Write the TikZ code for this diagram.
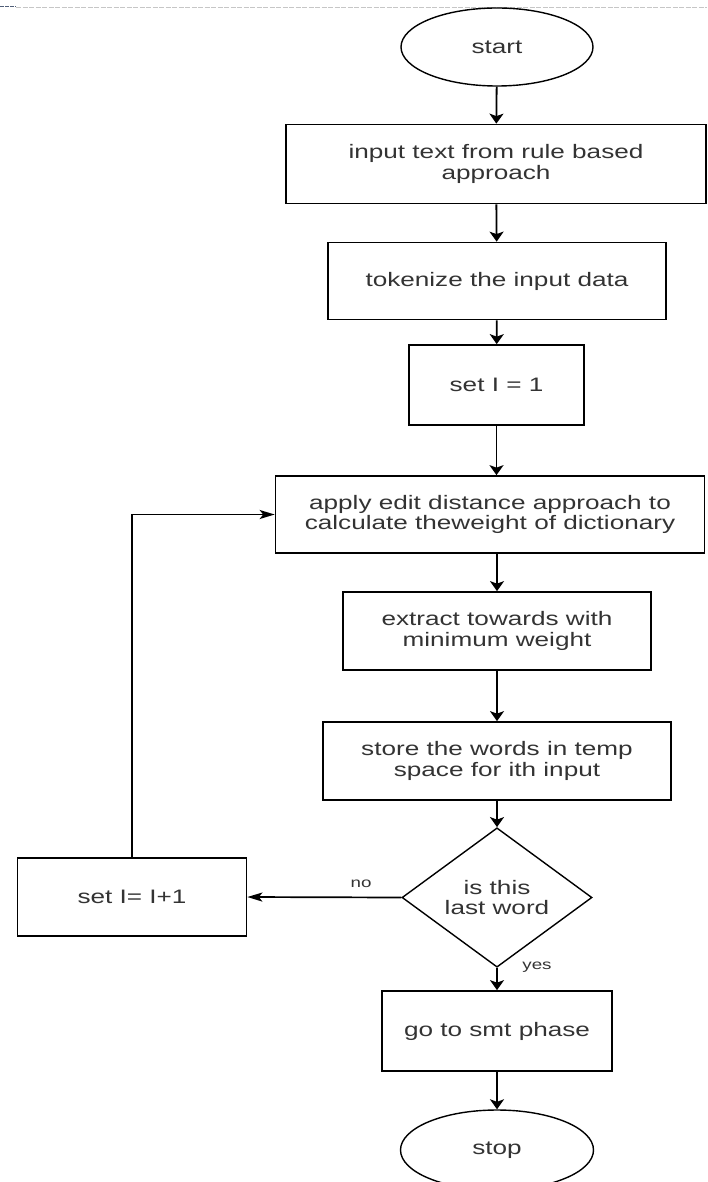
\documentclass[tikz,border=0pt]{standalone}
\usepackage{fontspec}
\setmainfont{Liberation Sans}[FakeStretch=1.34]
\usetikzlibrary{shapes.geometric,arrows.meta}
\definecolor{textgray}{RGB}{51,51,51}
\definecolor{ruleblue}{RGB}{80,95,120}

\begin{document}
\begin{tikzpicture}[x=1pt,y=-1pt,
  font=\fontsize{19.5}{20.5}\selectfont,
  every node/.style={text=textgray},
  box/.style={draw=black, line width=1.7pt, rectangle, inner sep=0pt, align=center},
  terminal/.style={draw=black, line width=1.4pt, ellipse, inner sep=0pt, align=center},
  decision/.style={draw=black, line width=1.4pt, diamond, inner sep=0pt, align=center},
  flow/.style={line width=1.8pt, draw=black, -{Stealth[length=10pt,width=14pt,inset=2.5pt]}},
  flowh/.style={line width=1.7pt, draw=black, -{Stealth[length=15pt,width=9pt,inset=3.5pt]}},
  tag/.style={font=\fontsize{14}{16}\selectfont, inner sep=0pt}]

\useasboundingbox (0,0) rectangle (707,1182);

% page rule along the top edge
\draw[gray!45, line width=0.7pt, dash pattern=on 5pt off 1.5pt] (16,7) -- (707,7);
\draw[ruleblue, line width=1pt, dash pattern=on 4pt off 1pt] (0,7) -- (16,7);

% steps
\node[terminal, minimum width=192, minimum height=78] (start) at (497,47) {start};
\node[box, minimum width=420, minimum height=79] (input) at (496,164) {input text from rule based\\approach};
\node[box, minimum width=338, minimum height=77] (token) at (497,281) {tokenize the input data};
\node[box, minimum width=175, minimum height=80] (init) at (496.5,385) {set I = 1};
\node[box, minimum width=429, minimum height=77] (edit) at (490,514.5) {apply edit distance approach to\\calculate theweight of dictionary};
\node[box, minimum width=308, minimum height=78] (extract) at (497,631) {extract towards with\\minimum weight};
\node[box, minimum width=348, minimum height=78] (store) at (497,761) {store the words in temp\\space for ith input};
\node[decision, minimum width=190, minimum height=115] (last) at (497,897.5) {is this\\last word};
\node[box, minimum width=229, minimum height=78] (incr) at (132,897) {set I= I+1};
\node[box, minimum width=230, minimum height=80] (smt) at (497,1031) {go to smt phase};
\node[terminal, minimum width=193, minimum height=80] (stop) at (497,1150) {stop};

% connectors
\draw[flow] (start) -- (input);
\draw[flow] (input) -- (token);
\draw[flow] (token) -- (init);
\draw[flow] (init.south) -- (init.south |- edit.north);
\draw[flow] (extract.north |- edit.south) -- (extract.north);
\draw[flow] (extract) -- (store);
\draw[flow] (store) -- (last);
\draw[flowh] (last.west) -- (incr.east);
\draw[flowh] (incr.north) |- (edit.west);
\draw[flow] (last.south) -- (smt.north);
\draw[flow] (smt) -- (stop);

% branch labels
\node[tag] (nolabel) at (361,884) {no};
\node[tag] (yeslabel) at (537,967) {yes};
\end{tikzpicture}
\end{document}
